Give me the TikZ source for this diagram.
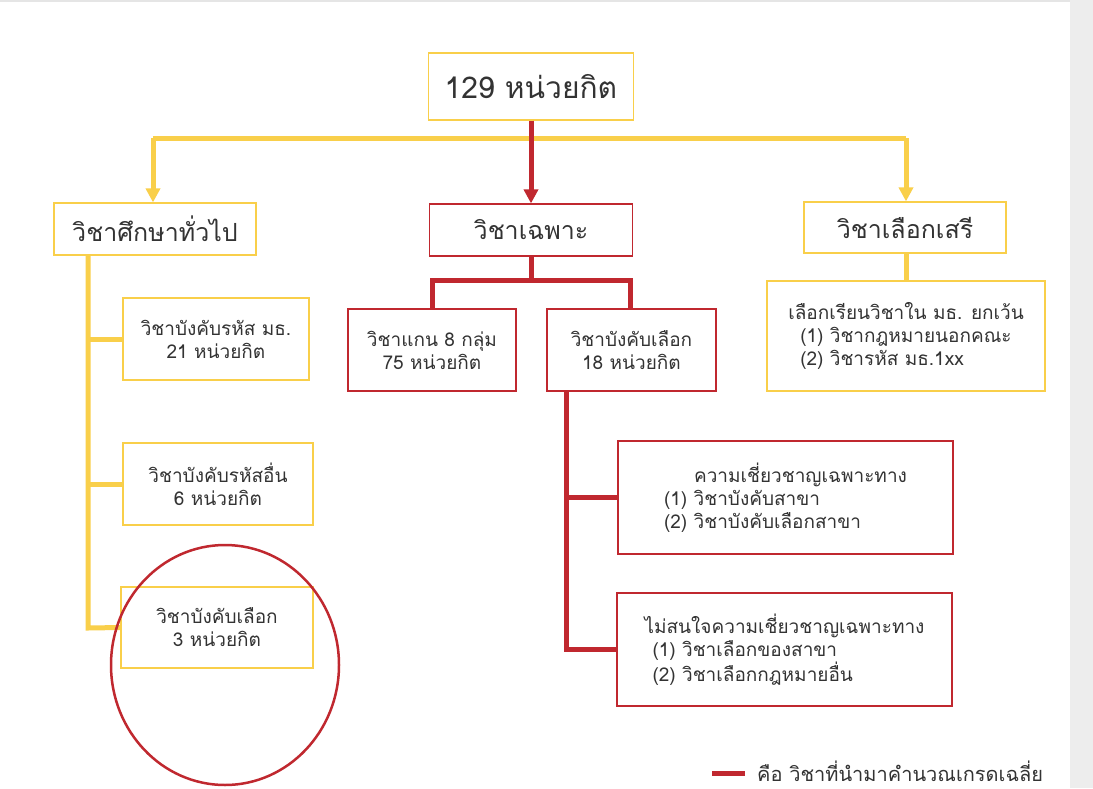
\documentclass[tikz,border=0pt]{standalone}
\usepackage{fontspec}
\usetikzlibrary{arrows.meta}
\newfontfamily\thaifont[Script=Thai]{Loma}
\begin{document}
\definecolor{ylw}{HTML}{F9CF4A}
\definecolor{rd}{HTML}{C0282F}
\definecolor{txt}{HTML}{333333}
\begin{tikzpicture}[x=1pt,y=-1pt,
  box/.style={draw=#1,line width=1.2pt,fill=white,inner sep=0pt,font=\thaifont\fontsize{19}{23}\selectfont,text=txt,align=center},
  yl/.style={draw=ylw,line width=5pt},
  rl/.style={draw=rd,line width=5pt},
  tip/.style={-{Triangle[length=14pt,width=14pt]}}]
\useasboundingbox (0,0) rectangle (1093,788);
\fill[white] (0,0) rectangle (1093,788);
\fill[black!7] (1070,0) rectangle (1093,788);
\fill[black!10] (0,0) rectangle (1070,2);
% nodes
\node[box=ylw,minimum width=205pt,minimum height=67pt,font=\thaifont\fontsize{30}{34}\selectfont] (root) at (531,86.5) {129 หน่วยกิต};
\node[box=ylw,minimum width=202pt,minimum height=52pt,font=\thaifont\fontsize{25}{28}\selectfont] (gen) at (155,229) {วิชาศึกษาทั่วไป};
\node[box=rd,minimum width=203pt,minimum height=52pt,font=\thaifont\fontsize{25}{28}\selectfont] (spec) at (531,230) {วิชาเฉพาะ};
\node[box=ylw,minimum width=202pt,minimum height=51pt,font=\thaifont\fontsize{25}{28}\selectfont] (free) at (905,227.5) {วิชาเลือกเสรี};
\node[box=ylw,minimum width=186pt,minimum height=82pt] (g1) at (216,339) {วิชาบังคับรหัส มธ.\\21 หน่วยกิต};
\node[box=ylw,minimum width=190pt,minimum height=82pt] (g2) at (218,484) {วิชาบังคับรหัสอื่น\\6 หน่วยกิต};
\node[box=ylw,minimum width=192pt,minimum height=81pt] (g3) at (217,627.5) {วิชาบังคับเลือก\\3 หน่วยกิต};
\node[box=rd,minimum width=168pt,minimum height=82pt] (s1) at (432,350) {วิชาแกน 8 กลุ่ม\\75 หน่วยกิต};
\node[box=rd,minimum width=169pt,minimum height=82pt] (s2) at (631.5,350) {วิชาบังคับเลือก\\18 หน่วยกิต};
\node[box=rd,minimum width=335pt,minimum height=113pt,align=left] (s3) at (785.5,497.5) {\hspace*{30pt}ความเชี่ยวชาญเฉพาะทาง\\(1) วิชาบังคับสาขา\\(2) วิชาบังคับเลือกสาขา};
\node[box=rd,minimum width=335pt,minimum height=113pt,align=left] (s4) at (784.5,649.5) {ไม่สนใจความเชี่ยวชาญเฉพาะทาง\\\hspace*{8pt}(1) วิชาเลือกของสาขา\\\hspace*{8pt}(2) วิชาเลือกกฎหมายอื่น};
\node[box=ylw,minimum width=278pt,minimum height=110pt,align=left] (f1) at (906,336) {เลือกเรียนวิชาใน มธ. ยกเว้น\\\hspace*{12pt}(1) วิชากฎหมายนอกคณะ\\\hspace*{12pt}(2) วิชารหัส มธ.1xx};
% connectors
\coordinate (bl) at (153,138); \coordinate (br) at (906,138);
\draw[yl] (bl) -- (br);
\draw[yl,tip] (bl) -- (bl |- gen.north);
\draw[yl,tip] (br) -- (br |- free.north);
\draw[rl,tip] (root.south) -- (spec.north);
\coordinate (gx) at (88,255);
\draw[yl] (gx) -- (88,628) -- (g3.west);
\draw[yl] (88,339) -- (g1.west);
\draw[yl] (88,484) -- (g2.west);
\draw[yl] (free.south -| f1.north) -- (f1.north);
\draw[rl] (spec.south) -- (531,280);
\draw[rl] (s1.north -| 432,0) |- (630,280) -- (s2.north -| 630,0);
\draw[rl] (s2.south -| 566,0) -- (566,649.5) -- (s4.west);
\draw[rl] (566,497.5) -- (s3.west);
\draw[rd,line width=2.5pt] (225,665) ellipse (114pt and 120pt);
% legend
\coordinate (la) at (712,773); \coordinate (lb) at (745,773);
\draw[rl] (la) -- (lb);
\node[anchor=west,font=\thaifont\fontsize{20}{24}\selectfont,text=txt,inner sep=0pt] (leg) at (757,771) {คือ วิชาที่นำมาคำนวณเกรดเฉลี่ย};
\end{tikzpicture}
\end{document}
